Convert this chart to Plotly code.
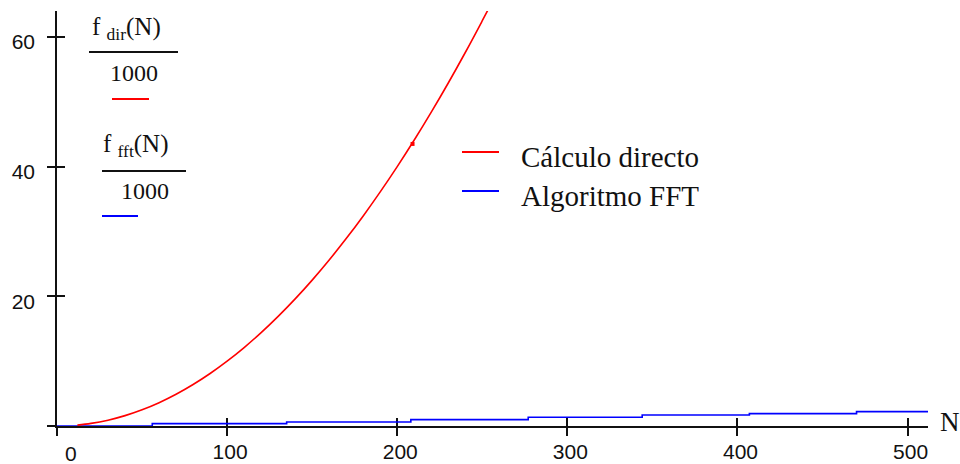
import plotly.graph_objects as go

# ---- data ----
n_dir = [12, 20, 30, 40, 50, 60, 70, 80, 90, 100, 110, 120, 130, 140, 150, 160,
         170, 180, 190, 200, 210, 220, 230, 240, 250, 254]
f_dir = [0.14, 0.4, 0.9, 1.6, 2.5, 3.6, 4.9, 6.4, 8.1, 10.0, 12.1, 14.4, 16.9, 19.6,
         22.5, 25.6, 28.9, 32.4, 36.1, 40.0, 44.1, 48.4, 52.9, 57.6, 62.5, 64.5]
n_fft = [0, 56, 135, 208, 277, 344, 407, 470, 512]
f_fft = [0, 0.37, 0.62, 0.99, 1.34, 1.70, 1.91, 2.22, 2.22]
cursor_n = [209]
cursor_f = [43.5]
x_ticks = [0, 100, 200, 300, 400, 500]
x_labeled = [100, 200, 300, 400, 500]
x_ticktext = ["100", "200", "300", "400", "500"]
y_ticks = [0, 20, 40, 60]
y_labeled = [20, 40, 60]
y_ticktext = ["20", "40", "60"]
legend_names = ["Cálculo directo", "Algoritmo FFT"]

RED = "#ff0000"
BLUE = "#0000ff"
SERIF = "Liberation Serif"
SANS = "Liberation Sans"

L, T, W, H = 57, 11, 871, 415


def px(x):
    return (x - L) / W


def py(y):
    return (T + H - y) / H


fig = go.Figure()
fig.add_trace(go.Scatter(x=n_fft, y=f_fft, mode="lines", line=dict(color=BLUE, width=1.6, shape="hv"),
                         name=legend_names[1], hoverinfo="skip"))
fig.add_trace(go.Scatter(x=n_dir, y=f_dir, mode="lines", line=dict(color=RED, width=1.6, shape="spline"),
                         name=legend_names[0], hoverinfo="skip"))
fig.add_trace(go.Scatter(x=cursor_n, y=cursor_f, mode="markers",
                         marker=dict(color=RED, size=4, symbol="square"), showlegend=False, hoverinfo="skip"))
# invisible trace so the overlay axes (inner half of the cross ticks + labels) are drawn
fig.add_trace(go.Scatter(x=n_fft, y=f_fft, xaxis="x2", yaxis="y2", mode="lines",
                         line=dict(width=0), opacity=0, showlegend=False, hoverinfo="skip"))

tick_common = dict(showgrid=False, zeroline=False, tickcolor="#111", tickwidth=2, ticklen=8,
                   automargin=False)

fig.update_layout(
    width=960, height=464,
    margin=dict(l=L, r=960 - L - W, t=T, b=464 - T - H, autoexpand=False),
    paper_bgcolor="white", plot_bgcolor="white",
    showlegend=False,
    xaxis=dict(range=[0, 512], tickvals=x_ticks, ticks="outside", showticklabels=False,
               showline=True, linecolor="#111", linewidth=2, layer="below traces", **tick_common),
    yaxis=dict(range=[0, 64], tickvals=y_ticks, ticks="outside", showticklabels=False,
               showline=True, linecolor="#111", linewidth=2, layer="below traces", **tick_common),
    xaxis2=dict(range=[0, 512], overlaying="x", anchor="y", side="bottom", tickvals=x_labeled,
                ticktext=x_ticktext, ticks="inside", showline=False, layer="below traces",
                tickfont=dict(family=SANS, size=21, color="#111"), ticklabelshift=3,
                ticklabelstandoff=11, **tick_common),
    yaxis2=dict(range=[0, 64], overlaying="y", anchor="x", side="left", tickvals=y_labeled,
                ticktext=y_ticktext, ticks="inside", showline=False, layer="below traces",
                tickfont=dict(family=SANS, size=21, color="#111"), ticklabelshift=5,
                ticklabelstandoff=21, **tick_common),
)

shapes = []


def hline(x0, x1, y, color, width=2):
    shapes.append(dict(type="line", xref="paper", yref="paper", x0=px(x0), x1=px(x1),
                       y0=py(y), y1=py(y), line=dict(color=color, width=width)))


hline(89, 178, 52, "#111")
hline(102, 186, 171, "#111")
hline(112, 149, 99, RED)
hline(102, 138, 216, BLUE)
hline(462, 499, 152, RED)
hline(462, 499, 191, BLUE)
fig.update_layout(shapes=shapes)

ann = []


def text(s, x, y, size, family=SERIF, xanchor="left", yanchor="middle"):
    ann.append(dict(text=s, xref="paper", yref="paper", x=px(x), y=py(y), xanchor=xanchor,
                    yanchor=yanchor, showarrow=False, font=dict(family=family, size=size, color="#111")))


text("f <sub>dir</sub>(N)", 90, 28, 25)
text("1000", 133.5, 73, 24, xanchor="center")
text("f <sub>fft</sub>(N)", 101, 145, 25)
text("1000", 145, 191, 24, xanchor="center")
text(legend_names[0], 519, 157, 29)
text(legend_names[1], 519, 196, 29)
text("N", 938, 422, 27)
text("0", 71, 453, 21, family=SANS, xanchor="center")
fig.update_layout(annotations=ann)

fig.write_html("out.html", config={"displayModeBar": False},
               post_script="document.body.style.margin='0';document.body.style.overflow='hidden';")
